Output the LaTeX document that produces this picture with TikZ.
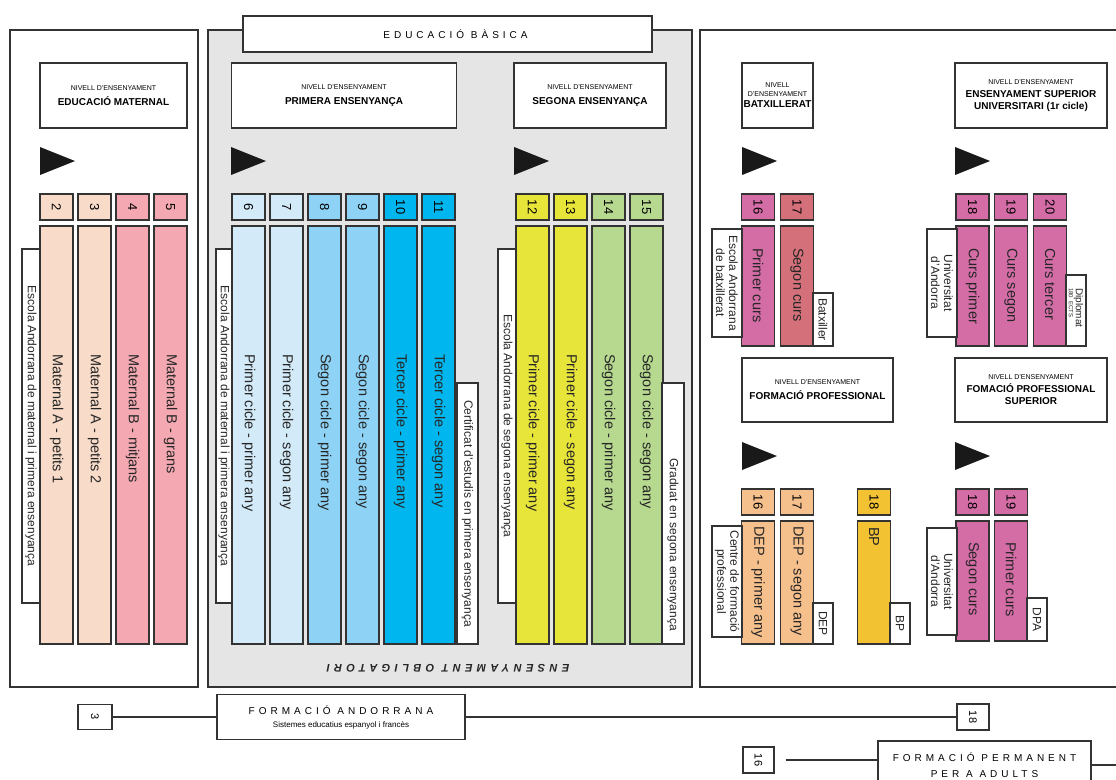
\documentclass[tikz,border=0pt]{standalone}
\usepackage{fontspec}
\setmainfont{Liberation Sans}
\newfontfamily\spacedfont[LetterSpace=40]{Liberation Sans}
\usetikzlibrary{positioning}
\definecolor{MatPeach}{RGB}{248,220,201}
\definecolor{MatPink}{RGB}{244,169,178}
\definecolor{PriLight}{RGB}{211,234,248}
\definecolor{PriMid}{RGB}{142,211,246}
\definecolor{PriCyan}{RGB}{0,182,238}
\definecolor{SecYellow}{RGB}{232,229,58}
\definecolor{SecGreen}{RGB}{182,217,143}
\definecolor{BatMagenta}{RGB}{212,108,166}
\definecolor{BatRose}{RGB}{212,112,122}
\definecolor{FPOrange}{RGB}{246,192,141}
\definecolor{FPGold}{RGB}{243,194,50}
\newcommand{\nivfont}{\fontsize{7}{8}\selectfont}

\begin{document}
\begin{tikzpicture}[
    x=1pt, y=-1pt,
    font=\fontsize{12}{13}\selectfont,
    frame/.style={
        draw=black!80,
        line width=1.3pt
    },
    levelbox/.style={
        draw=black!80,
        line width=1.2pt,
        fill=white,
        align=center,
        inner sep=0pt,
        minimum height=65pt,
        font=\fontsize{10}{12}\selectfont
    },
    numbox/.style={
        draw=black!80,
        line width=1.1pt,
        rotate=-90,
        inner sep=0pt,
        minimum width=26pt,
        minimum height=33pt,
        font=\fontsize{13}{13}\selectfont
    },
    bar/.style={
        draw=black!80,
        line width=1.1pt,
        inner sep=0pt,
        minimum width=33pt
    },
    bartext/.style={
        rotate=-90,
        anchor=west,
        inner sep=0pt,
        text=black!85,
        font=\fontsize{14.5}{15}\selectfont
    },
    sidebox/.style={
        draw=black!80,
        line width=1.1pt,
        fill=white,
        rotate=-90,
        inner sep=0pt,
        align=center,
        text=black!85
    },
    conn/.style={
        draw=black!80,
        line width=1.3pt
    }
]
\useasboundingbox (0,0) rectangle (1116,779);
\clip (0,0) rectangle (1116,779);

% frames
\draw[frame] (10,30) rectangle (198,687);
\draw[frame, fill=gray!20] (208,30) rectangle (692,687);
\draw[frame] (700,30) rectangle (1130,687);
\node[levelbox, minimum width=409pt, minimum height=36pt] (basica) at (447.5,34) {\hspace*{16pt}\spacedfont EDUCACIÓ BÀSICA};
\node[rotate=180, text=black!85, font=\fontsize{11}{12}\selectfont] (oblig) at (448,668) {\spacedfont\bfseries\itshape ENSENYAMENT OBLIGATORI};

% nivells
\node[levelbox, minimum width=147pt] (lvmat) at (113.5,95.5) {{\nivfont NIVELL D'ENSENYAMENT}\\[3pt]{\bfseries EDUCACIÓ MATERNAL}};
\node[levelbox, minimum width=225pt] (lvpri) at (344,95.5) {{\nivfont NIVELL D'ENSENYAMENT}\\[3pt]{\bfseries PRIMERA ENSENYANÇA}};
\node[levelbox, minimum width=152pt] (lvsec) at (590,95.5) {{\nivfont NIVELL D'ENSENYAMENT}\\[3pt]{\bfseries SEGONA ENSENYANÇA}};
\node[levelbox, minimum width=71pt] (lvbat) at (777.5,95.5) {{\nivfont NIVELL}\\[-3pt]{\nivfont D'ENSENYAMENT}\\[-1pt]{\bfseries BATXILLERAT}};
\node[levelbox, minimum width=152pt] (lvuni) at (1031,95.5) {{\nivfont NIVELL D'ENSENYAMENT}\\[1pt]{\bfseries ENSENYAMENT SUPERIOR}\\{\bfseries UNIVERSITARI (1r cicle)}};
\node[levelbox, minimum width=151pt, minimum height=64pt] (lvfp) at (817.5,390) {{\nivfont NIVELL D'ENSENYAMENT}\\[3pt]{\bfseries FORMACIÓ PROFESSIONAL}};
\node[levelbox, minimum width=152pt, minimum height=64pt] (lvfps) at (1031,390) {{\nivfont NIVELL D'ENSENYAMENT}\\[1pt]{\bfseries FOMACIÓ PROFESSIONAL}\\{\bfseries SUPERIOR}};

% fletxes
\foreach \x/\y in {40/147, 231/147, 514/147, 742/147, 955/147, 742/442, 955/442}
    \fill[black!90] (\x,\y) -- ++(0,28) -- ++(35,-14) -- cycle;

% educacio maternal
\node[numbox, fill=MatPeach] (n2) at (56.5,207) {2};
\node[numbox, fill=MatPeach] (n3) at (94.5,207) {3};
\node[numbox, fill=MatPink] (n4) at (132.5,207) {4};
\node[numbox, fill=MatPink] (n5) at (170.5,207) {5};
\node[bar, fill=MatPeach, minimum height=418pt] (bar2) at (56.5,435) {};
\node[bar, fill=MatPeach, minimum height=418pt] (bar3) at (94.5,435) {};
\node[bar, fill=MatPink, minimum height=418pt] (bar4) at (132.5,435) {};
\node[bar, fill=MatPink, minimum height=418pt] (bar5) at (170.5,435) {};
\node[bartext] (txt2) at (56.5,354) {Maternal A - petits 1};
\node[bartext] (txt3) at (94.5,354) {Maternal A - petits 2};
\node[bartext] (txt4) at (132.5,354) {Maternal B - mitjans};
\node[bartext] (txt5) at (170.5,354) {Maternal B - grans};
\node[sidebox, minimum width=354pt, minimum height=18pt] (smat) at (31,426) {Escola Andorrana de maternal i primera ensenyança};

% primera ensenyanca
\node[numbox, fill=PriLight] (n6) at (248.5,207) {6};
\node[numbox, fill=PriLight] (n7) at (286.5,207) {7};
\node[numbox, fill=PriMid] (n8) at (324.5,207) {8};
\node[numbox, fill=PriMid] (n9) at (362.5,207) {9};
\node[numbox, fill=PriCyan] (n10) at (400.5,207) {10};
\node[numbox, fill=PriCyan] (n11) at (438.5,207) {11};
\node[bar, fill=PriLight, minimum height=418pt] (bar6) at (248.5,435) {};
\node[bar, fill=PriLight, minimum height=418pt] (bar7) at (286.5,435) {};
\node[bar, fill=PriMid, minimum height=418pt] (bar8) at (324.5,435) {};
\node[bar, fill=PriMid, minimum height=418pt] (bar9) at (362.5,435) {};
\node[bar, fill=PriCyan, minimum height=418pt] (bar10) at (400.5,435) {};
\node[bar, fill=PriCyan, minimum height=418pt] (bar11) at (438.5,435) {};
\node[bartext] (txt6) at (248.5,354) {Primer cicle - primer any};
\node[bartext] (txt7) at (286.5,354) {Primer cicle - segon any};
\node[bartext] (txt8) at (324.5,354) {Segon cicle - primer any};
\node[bartext] (txt9) at (362.5,354) {Segon cicle - segon any};
\node[bartext] (txt10) at (400.5,354) {Tercer cicle - primer any};
\node[bartext] (txt11) at (438.5,354) {Tercer cicle - segon any};
\node[sidebox, minimum width=354pt, minimum height=16pt] (spri) at (224,426) {Escola Andorrana de maternal i primera ensenyança};
\node[sidebox, minimum width=261pt, minimum height=21pt] (scert) at (467.5,513.5) {Certificat d'estudis en primera ensenyança};

% segona ensenyanca
\node[numbox, fill=SecYellow] (n12) at (532.5,207) {12};
\node[numbox, fill=SecYellow] (n13) at (570.5,207) {13};
\node[numbox, fill=SecGreen] (n14) at (608.5,207) {14};
\node[numbox, fill=SecGreen] (n15) at (646.5,207) {15};
\node[bar, fill=SecYellow, minimum height=418pt] (bar12) at (532.5,435) {};
\node[bar, fill=SecYellow, minimum height=418pt] (bar13) at (570.5,435) {};
\node[bar, fill=SecGreen, minimum height=418pt] (bar14) at (608.5,435) {};
\node[bar, fill=SecGreen, minimum height=418pt] (bar15) at (646.5,435) {};
\node[bartext] (txt12) at (532.5,354) {Primer cicle - primer any};
\node[bartext] (txt13) at (570.5,354) {Primer cicle - segon any};
\node[bartext] (txt14) at (608.5,354) {Segon cicle - primer any};
\node[bartext] (txt15) at (646.5,354) {Segon cicle - segon any};
\node[sidebox, minimum width=354pt, minimum height=18pt] (ssec) at (507,426) {Escola Andorrana de segona ensenyança};
\node[sidebox, minimum width=261pt, minimum height=22pt, text width=235pt, align=right] (sgrad) at (673,513.5) {Graduat en segona ensenyança};

% batxillerat
\node[numbox, fill=BatMagenta] (n16b) at (758,207) {16};
\node[numbox, fill=BatRose] (n17b) at (797,207) {17};
\node[bar, fill=BatMagenta, minimum height=120pt] (bar16b) at (758,286) {};
\node[bar, fill=BatRose, minimum height=120pt] (bar17b) at (797,286) {};
\node[bartext] (txt16b) at (758,248) {Primer curs};
\node[bartext] (txt17b) at (797,248) {Segon curs};
\node[sidebox, minimum width=108pt, minimum height=30pt] (sbat) at (727,283) {Escola Andorrana\\de batxillerat};
\node[sidebox, minimum width=53pt, minimum height=20pt] (sbatx) at (823,319.5) {Batxiller};

% universitat
\node[numbox, fill=BatMagenta] (n18u) at (972.5,207) {18};
\node[numbox, fill=BatMagenta] (n19u) at (1011,207) {19};
\node[numbox, fill=BatMagenta] (n20u) at (1050,207) {20};
\node[bar, fill=BatMagenta, minimum height=120pt] (bar18u) at (972.5,286) {};
\node[bar, fill=BatMagenta, minimum height=120pt] (bar19u) at (1011,286) {};
\node[bar, fill=BatMagenta, minimum height=120pt] (bar20u) at (1050,286) {};
\node[bartext] (txt18u) at (972.5,248) {Curs primer};
\node[bartext] (txt19u) at (1011,248) {Curs segon};
\node[bartext] (txt20u) at (1050,248) {Curs tercer};
\node[sidebox, minimum width=108pt, minimum height=30pt] (suni) at (942,283) {Universitat\\d'Andorra};
\node[sidebox, minimum width=71pt, minimum height=20pt, text width=45pt, align=left, font=\fontsize{10}{9}\selectfont] (sdipl) at (1076,310.5) {Diplomat\\[-2pt]{\fontsize{6}{6}\selectfont 180 ECTS}};

% formacio professional
\node[numbox, fill=FPOrange] (n16f) at (758,502) {16};
\node[numbox, fill=FPOrange] (n17f) at (797,502) {17};
\node[numbox, fill=FPGold] (n18f) at (874,502) {18};
\node[bar, fill=FPOrange, minimum height=123pt] (bar16f) at (758,582.5) {};
\node[bar, fill=FPOrange, minimum height=123pt] (bar17f) at (797,582.5) {};
\node[bar, fill=FPGold, minimum height=123pt] (bar18f) at (874,582.5) {};
\node[bartext] (txt16f) at (758,526) {DEP - primer any};
\node[bartext] (txt17f) at (797,526) {DEP - segon any};
\node[bartext] (txt18f) at (874,527) {BP};
\node[sidebox, minimum width=111pt, minimum height=30pt] (scfp) at (727,581.5) {Centre de formació\\professional};
\node[sidebox, minimum width=41pt, minimum height=20pt] (sdep) at (823,623.5) {DEP};
\node[sidebox, minimum width=41pt, minimum height=20pt] (sbp) at (900,623.5) {BP};

% formacio professional superior
\node[numbox, fill=BatMagenta] (n18s) at (972.5,502) {18};
\node[numbox, fill=BatMagenta] (n19s) at (1011,502) {19};
\node[bar, fill=BatMagenta, minimum height=120pt] (bar18s) at (972.5,581) {};
\node[bar, fill=BatMagenta, minimum height=120pt] (bar19s) at (1011,581) {};
\node[bartext] (txt18s) at (972.5,542) {Segon curs};
\node[bartext] (txt19s) at (1011,542) {Primer curs};
\node[sidebox, minimum width=107pt, minimum height=30pt] (suni2) at (942,581.5) {Universitat\\d'Andorra};
\node[sidebox, minimum width=43pt, minimum height=20pt] (sdpa) at (1037,619.5) {DPA};

% formacio andorrana i adults
\node[numbox, minimum width=25pt, minimum height=34pt, fill=white, font=\fontsize{11}{11}\selectfont] (b3) at (95,717) {3};
\node[levelbox, minimum width=248pt, minimum height=45pt] (fa) at (341,717) {{\spacedfont FORMACIÓ ANDORRANA}\\[1pt]{\fontsize{8}{9}\selectfont Sistemes educatius espanyol i francès}};
\node[numbox, minimum width=26pt, minimum height=32pt, fill=white, font=\fontsize{11}{11}\selectfont] (b18) at (973,717) {18};
\node[numbox, minimum width=26pt, minimum height=31pt, fill=white, font=\fontsize{11}{11}\selectfont] (b16) at (758.5,760) {16};
\node[levelbox, minimum width=213pt, minimum height=48pt, font=\fontsize{10}{16}\selectfont] (fpa) at (984.5,765) {\spacedfont FORMACIÓ PERMANENT\\\spacedfont PER A ADULTS};
\coordinate (edge) at (1116,765);

\draw[conn] (b3) -- (fa);
\draw[conn] (fa) -- (b18);
\draw[conn, shorten <=11pt] (b16) -- (b16 -| fpa.west);
\draw[conn] (fpa) -- (edge);

\end{tikzpicture}
\end{document}
